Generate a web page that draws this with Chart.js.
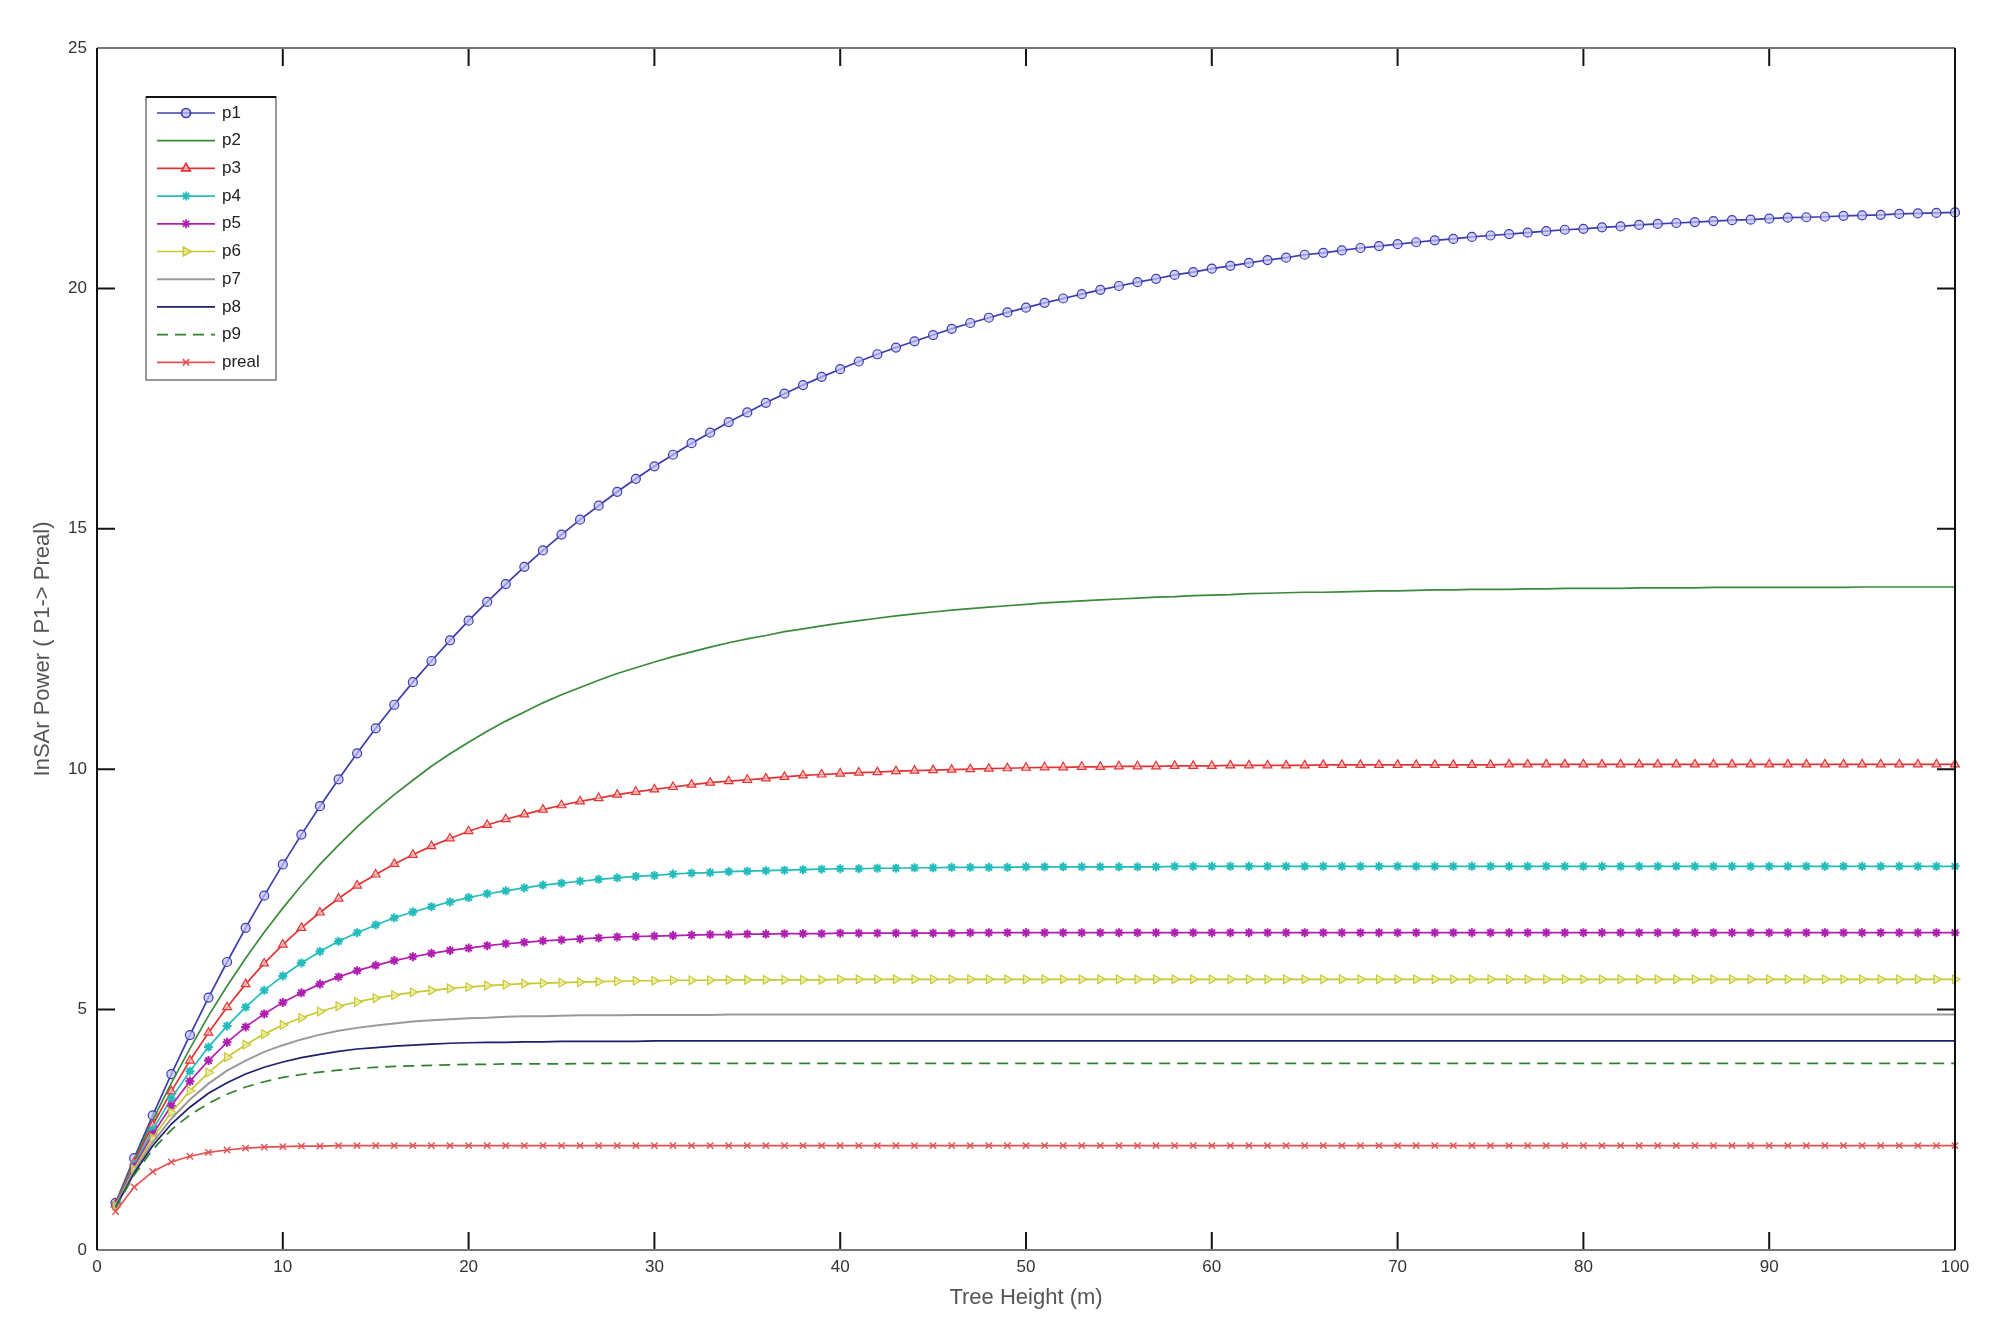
<!DOCTYPE html>
<html>
<head>
<meta charset="utf-8">
<script src="https://cdn.jsdelivr.net/npm/chart.js@4.4.1/dist/chart.umd.min.js"></script>
<style>
  html, body { margin: 0; padding: 0; background: #fff; }
  #wrap { width: 1997px; height: 1328px; }
</style>
</head>
<body>
<div id="wrap"><canvas id="myChart" width="1997" height="1328"></canvas></div>
<script>
// tree height (m), one point per metre
const heights = [
  1,2,3,4,5,6,7,8,9,10, 11,12,13,14,15,16,17,18,19,20,
  21,22,23,24,25,26,27,28,29,30, 31,32,33,34,35,36,37,38,39,40,
  41,42,43,44,45,46,47,48,49,50, 51,52,53,54,55,56,57,58,59,60,
  61,62,63,64,65,66,67,68,69,70, 71,72,73,74,75,76,77,78,79,80,
  81,82,83,84,85,86,87,88,89,90, 91,92,93,94,95,96,97,98,99,100
]

const p1 = [
  0.98,1.91,2.80,3.66,4.47,5.25,5.99,6.70,7.37,8.02,
  8.64,9.23,9.79,10.33,10.85,11.34,11.81,12.25,12.68,13.09,
  13.48,13.85,14.21,14.55,14.88,15.19,15.48,15.77,16.04,16.30,
  16.54,16.78,17.00,17.22,17.42,17.62,17.81,17.99,18.16,18.32,
  18.48,18.63,18.77,18.90,19.03,19.16,19.28,19.39,19.50,19.60,
  19.70,19.79,19.88,19.97,20.05,20.13,20.20,20.28,20.34,20.41,
  20.47,20.53,20.59,20.64,20.70,20.74,20.79,20.84,20.88,20.92,
  20.96,21.00,21.03,21.07,21.10,21.13,21.16,21.19,21.22,21.24,
  21.27,21.29,21.32,21.34,21.36,21.38,21.40,21.42,21.43,21.45,
  21.47,21.48,21.49,21.51,21.52,21.53,21.55,21.56,21.57,21.58
]
const p2 = [
  0.97,1.86,2.70,3.47,4.19,4.87,5.49,6.07,6.61,7.11,
  7.58,8.02,8.42,8.80,9.15,9.47,9.77,10.06,10.32,10.56,
  10.79,11.00,11.19,11.38,11.55,11.70,11.85,11.99,12.11,12.23,
  12.34,12.44,12.54,12.63,12.71,12.78,12.86,12.92,12.98,13.04,
  13.09,13.14,13.19,13.23,13.27,13.31,13.34,13.37,13.40,13.43,
  13.46,13.48,13.50,13.52,13.54,13.56,13.58,13.59,13.61,13.62,
  13.63,13.65,13.66,13.67,13.68,13.68,13.69,13.70,13.71,13.71,
  13.72,13.73,13.73,13.74,13.74,13.74,13.75,13.75,13.76,13.76,
  13.76,13.76,13.77,13.77,13.77,13.77,13.78,13.78,13.78,13.78,
  13.78,13.78,13.78,13.78,13.79,13.79,13.79,13.79,13.79,13.79
]
const p3 = [
  0.95,1.82,2.60,3.30,3.94,4.52,5.05,5.53,5.96,6.35,
  6.70,7.02,7.31,7.58,7.81,8.03,8.22,8.40,8.56,8.71,
  8.84,8.96,9.06,9.16,9.25,9.33,9.40,9.47,9.53,9.58,
  9.63,9.68,9.72,9.75,9.78,9.81,9.84,9.87,9.89,9.91,
  9.93,9.94,9.96,9.97,9.98,9.99,10.00,10.01,10.02,10.03,
  10.04,10.04,10.05,10.05,10.06,10.06,10.06,10.07,10.07,10.07,
  10.08,10.08,10.08,10.08,10.08,10.09,10.09,10.09,10.09,10.09,
  10.09,10.09,10.09,10.09,10.09,10.10,10.10,10.10,10.10,10.10,
  10.10,10.10,10.10,10.10,10.10,10.10,10.10,10.10,10.10,10.10,
  10.10,10.10,10.10,10.10,10.10,10.10,10.10,10.10,10.10,10.10
]
const p4 = [
  0.94,1.77,2.50,3.15,3.72,4.22,4.66,5.05,5.40,5.70,
  5.97,6.21,6.42,6.60,6.76,6.91,7.03,7.14,7.24,7.33,
  7.41,7.47,7.53,7.59,7.63,7.67,7.71,7.74,7.77,7.79,
  7.82,7.84,7.85,7.87,7.88,7.89,7.90,7.91,7.92,7.93,
  7.93,7.94,7.94,7.95,7.95,7.96,7.96,7.96,7.96,7.97,
  7.97,7.97,7.97,7.97,7.97,7.97,7.97,7.98,7.98,7.98,
  7.98,7.98,7.98,7.98,7.98,7.98,7.98,7.98,7.98,7.98,
  7.98,7.98,7.98,7.98,7.98,7.98,7.98,7.98,7.98,7.98,
  7.98,7.98,7.98,7.98,7.98,7.98,7.98,7.98,7.98,7.98,
  7.98,7.98,7.98,7.98,7.98,7.98,7.98,7.98,7.98,7.98
]
const p5 = [
  0.93,1.73,2.41,3.00,3.51,3.94,4.32,4.64,4.91,5.15,
  5.35,5.53,5.68,5.81,5.92,6.02,6.10,6.17,6.23,6.28,
  6.33,6.37,6.40,6.43,6.45,6.47,6.49,6.51,6.52,6.53,
  6.54,6.55,6.56,6.56,6.57,6.57,6.58,6.58,6.58,6.59,
  6.59,6.59,6.59,6.59,6.59,6.59,6.60,6.60,6.60,6.60,
  6.60,6.60,6.60,6.60,6.60,6.60,6.60,6.60,6.60,6.60,
  6.60,6.60,6.60,6.60,6.60,6.60,6.60,6.60,6.60,6.60,
  6.60,6.60,6.60,6.60,6.60,6.60,6.60,6.60,6.60,6.60,
  6.60,6.60,6.60,6.60,6.60,6.60,6.60,6.60,6.60,6.60,
  6.60,6.60,6.60,6.60,6.60,6.60,6.60,6.60,6.60,6.60
]
const p6 = [
  0.92,1.68,2.33,2.86,3.31,3.69,4.01,4.27,4.49,4.68,
  4.83,4.96,5.07,5.16,5.24,5.30,5.36,5.40,5.44,5.47,
  5.50,5.52,5.54,5.55,5.56,5.57,5.58,5.59,5.60,5.60,
  5.61,5.61,5.61,5.62,5.62,5.62,5.62,5.62,5.62,5.63,
  5.63,5.63,5.63,5.63,5.63,5.63,5.63,5.63,5.63,5.63,
  5.63,5.63,5.63,5.63,5.63,5.63,5.63,5.63,5.63,5.63,
  5.63,5.63,5.63,5.63,5.63,5.63,5.63,5.63,5.63,5.63,
  5.63,5.63,5.63,5.63,5.63,5.63,5.63,5.63,5.63,5.63,
  5.63,5.63,5.63,5.63,5.63,5.63,5.63,5.63,5.63,5.63,
  5.63,5.63,5.63,5.63,5.63,5.63,5.63,5.63,5.63,5.63
]
const p7 = [
  0.91,1.64,2.24,2.73,3.13,3.46,3.73,3.94,4.12,4.26,
  4.38,4.48,4.56,4.62,4.67,4.71,4.75,4.78,4.80,4.82,
  4.83,4.85,4.86,4.86,4.87,4.88,4.88,4.88,4.89,4.89,
  4.89,4.89,4.89,4.90,4.90,4.90,4.90,4.90,4.90,4.90,
  4.90,4.90,4.90,4.90,4.90,4.90,4.90,4.90,4.90,4.90,
  4.90,4.90,4.90,4.90,4.90,4.90,4.90,4.90,4.90,4.90,
  4.90,4.90,4.90,4.90,4.90,4.90,4.90,4.90,4.90,4.90,
  4.90,4.90,4.90,4.90,4.90,4.90,4.90,4.90,4.90,4.90,
  4.90,4.90,4.90,4.90,4.90,4.90,4.90,4.90,4.90,4.90,
  4.90,4.90,4.90,4.90,4.90,4.90,4.90,4.90,4.90,4.90
]
const p8 = [
  0.89,1.60,2.17,2.62,2.97,3.26,3.48,3.66,3.80,3.91,
  4.00,4.07,4.13,4.18,4.21,4.24,4.26,4.28,4.30,4.31,
  4.32,4.32,4.33,4.33,4.34,4.34,4.34,4.34,4.34,4.35,
  4.35,4.35,4.35,4.35,4.35,4.35,4.35,4.35,4.35,4.35,
  4.35,4.35,4.35,4.35,4.35,4.35,4.35,4.35,4.35,4.35,
  4.35,4.35,4.35,4.35,4.35,4.35,4.35,4.35,4.35,4.35,
  4.35,4.35,4.35,4.35,4.35,4.35,4.35,4.35,4.35,4.35,
  4.35,4.35,4.35,4.35,4.35,4.35,4.35,4.35,4.35,4.35,
  4.35,4.35,4.35,4.35,4.35,4.35,4.35,4.35,4.35,4.35,
  4.35,4.35,4.35,4.35,4.35,4.35,4.35,4.35,4.35,4.35
]
const p9 = [
  0.88,1.56,2.09,2.50,2.81,3.05,3.24,3.39,3.50,3.59,
  3.65,3.70,3.74,3.78,3.80,3.82,3.83,3.84,3.85,3.86,
  3.86,3.87,3.87,3.87,3.87,3.88,3.88,3.88,3.88,3.88,
  3.88,3.88,3.88,3.88,3.88,3.88,3.88,3.88,3.88,3.88,
  3.88,3.88,3.88,3.88,3.88,3.88,3.88,3.88,3.88,3.88,
  3.88,3.88,3.88,3.88,3.88,3.88,3.88,3.88,3.88,3.88,
  3.88,3.88,3.88,3.88,3.88,3.88,3.88,3.88,3.88,3.88,
  3.88,3.88,3.88,3.88,3.88,3.88,3.88,3.88,3.88,3.88,
  3.88,3.88,3.88,3.88,3.88,3.88,3.88,3.88,3.88,3.88,
  3.88,3.88,3.88,3.88,3.88,3.88,3.88,3.88,3.88,3.88
]
const preal = [
  0.80,1.31,1.63,1.83,1.95,2.03,2.08,2.12,2.14,2.15,
  2.16,2.16,2.17,2.17,2.17,2.17,2.17,2.17,2.17,2.17,
  2.17,2.17,2.17,2.17,2.17,2.17,2.17,2.17,2.17,2.17,
  2.17,2.17,2.17,2.17,2.17,2.17,2.17,2.17,2.17,2.17,
  2.17,2.17,2.17,2.17,2.17,2.17,2.17,2.17,2.17,2.17,
  2.17,2.17,2.17,2.17,2.17,2.17,2.17,2.17,2.17,2.17,
  2.17,2.17,2.17,2.17,2.17,2.17,2.17,2.17,2.17,2.17,
  2.17,2.17,2.17,2.17,2.17,2.17,2.17,2.17,2.17,2.17,
  2.17,2.17,2.17,2.17,2.17,2.17,2.17,2.17,2.17,2.17,
  2.17,2.17,2.17,2.17,2.17,2.17,2.17,2.17,2.17,2.17
]

const seriesNames = ['p1','p2','p3','p4','p5','p6','p7','p8','p9','preal']
const seriesValues = [p1, p2, p3, p4, p5, p6, p7, p8, p9, preal]
const xTicks = [0,10,20,30,40,50,60,70,80,90,100]
const yTicks = [0,5,10,15,20,25]

// matlab-ish line specs
const looks = [
  { color: '#3c3cae', fill: 'rgba(190,190,245,0.7)', marker: 'circle', r: 4.5, bw: 1.2 },
  { color: '#3b8a3b', marker: false },
  { color: '#e03434', fill: 'rgba(250,190,190,0.7)', marker: 'triangle', r: 5, bw: 1.2 },
  { color: '#22bcbc', fill: '#22bcbc', marker: 'star', r: 4.5, bw: 2 },
  { color: '#b020b0', fill: '#b020b0', marker: 'star', r: 4.5, bw: 2 },
  { color: '#c8c832', fill: 'rgba(240,240,170,0.7)', marker: 'triangle', r: 5, rot: 90, bw: 1.2 },
  { color: '#999999', marker: false, w: 2 },
  { color: '#1e1e6e', marker: false },
  { color: '#2f802f', marker: false, dash: [11, 7] },
  { color: '#e25252', fill: '#e25252', marker: 'crossRot', r: 4.5, bw: 1.4 }
]

const datasets = seriesNames.map((name, i) => {
  const lk = looks[i]
  return {
    label: name,
    data: seriesValues[i].map((v, k) => ({ x: heights[k], y: v })),
    borderColor: lk.color,
    borderWidth: lk.w || 1.7,
    borderDash: lk.dash || [],
    pointStyle: lk.marker || 'circle',
    pointRadius: lk.marker ? lk.r : 0,
    pointRotation: lk.rot || 0,
    pointBorderColor: lk.color,
    pointBackgroundColor: lk.fill || lk.color,
    pointBorderWidth: lk.bw || 1.2,
    tension: 0,
    fill: false,
    clip: 8,
    order: seriesNames.length - i
  }
})

// box round the axes with inward ticks on all four sides
const framePlugin = {
  id: 'frame',
  afterDatasetsDraw(chart) {
    const { ctx, chartArea: a, scales: { x, y } } = chart
    ctx.save()
    ctx.lineWidth = 2
    ctx.strokeStyle = '#151515'
    ctx.beginPath()
    xTicks.forEach(t => {
      const px = x.getPixelForValue(t)
      ctx.moveTo(px, a.bottom); ctx.lineTo(px, a.bottom - 18)
      ctx.moveTo(px, a.top); ctx.lineTo(px, a.top + 18)
    })
    yTicks.forEach(t => {
      const py = y.getPixelForValue(t)
      ctx.moveTo(a.left, py); ctx.lineTo(a.left + 18, py)
      ctx.moveTo(a.right, py); ctx.lineTo(a.right - 18, py)
    })
    ctx.stroke()
    ctx.beginPath()
    ctx.strokeStyle = '#777'
    ctx.moveTo(a.left, a.top); ctx.lineTo(a.right, a.top)
    ctx.moveTo(a.left, a.bottom); ctx.lineTo(a.right, a.bottom)
    ctx.stroke()
    ctx.beginPath()
    ctx.strokeStyle = '#111'
    ctx.moveTo(a.left, a.top); ctx.lineTo(a.left, a.bottom)
    ctx.moveTo(a.right, a.top); ctx.lineTo(a.right, a.bottom)
    ctx.stroke()
    ctx.restore()
  }
}

// boxed legend in the upper left, line sample plus marker
const legendPlugin = {
  id: 'boxLegend',
  afterDraw(chart) {
    const { ctx, chartArea: a } = chart
    const left = a.left + 49, top = a.top + 49
    const w = 130, rowH = 27.7
    const h = rowH * chart.data.datasets.length + 6
    ctx.save()
    ctx.fillStyle = '#fff'
    ctx.fillRect(left, top, w, h)
    ctx.lineWidth = 1.5
    ctx.strokeStyle = '#777'
    ctx.strokeRect(left, top, w, h)
    ctx.beginPath()
    ctx.lineWidth = 2
    ctx.strokeStyle = '#111'
    ctx.moveTo(left, top); ctx.lineTo(left + w, top)
    ctx.stroke()
    chart.data.datasets.forEach((ds, i) => {
      const cy = top + 16 + i * rowH
      ctx.beginPath()
      ctx.strokeStyle = ds.borderColor
      ctx.lineWidth = ds.borderWidth
      ctx.setLineDash(ds.borderDash)
      ctx.moveTo(left + 11, cy); ctx.lineTo(left + 69, cy)
      ctx.stroke()
      ctx.setLineDash([])
      if (ds.pointRadius > 0) {
        ctx.strokeStyle = ds.pointBorderColor
        ctx.fillStyle = ds.pointBackgroundColor
        Chart.helpers.drawPoint(ctx, {
          pointStyle: ds.pointStyle, radius: ds.pointRadius,
          rotation: ds.pointRotation, borderWidth: ds.pointBorderWidth
        }, left + 40, cy)
      }
      ctx.fillStyle = '#222'
      ctx.font = '17px "Liberation Sans", Arial, sans-serif'
      ctx.textBaseline = 'middle'
      ctx.fillText(ds.label, left + 76, cy)
    })
    ctx.restore()
  }
}

const tickFont = { family: '"Liberation Sans", Arial, sans-serif', size: 17 }
const titleFont = { family: '"Liberation Sans", Arial, sans-serif', size: 22 }

new Chart(document.getElementById('myChart'), {
  type: 'line',
  data: { datasets },
  plugins: [framePlugin, legendPlugin],
  options: {
    responsive: false,
    animation: false,
    devicePixelRatio: 1,
    layout: { padding: { left: 0, top: 48, right: 42, bottom: 0 } },
    plugins: { legend: { display: false }, tooltip: { enabled: false } },
    scales: {
      x: {
        type: 'linear', min: 0, max: 100,
        afterFit(s) { s.height = 78 },
        grid: { display: false, drawTicks: false },
        border: { display: false },
        ticks: { stepSize: 10, padding: 7, color: '#333', font: tickFont },
        title: { display: true, text: 'Tree Height (m)', color: '#555', font: titleFont, padding: { top: 0, bottom: 17 } }
      },
      y: {
        type: 'linear', min: 0, max: 25,
        afterFit(s) { s.width = 97 },
        grid: { display: false, drawTicks: false },
        border: { display: false },
        ticks: { stepSize: 5, padding: 10, color: '#333', font: tickFont },
        title: { display: true, text: 'InSAr Power ( P1-> Preal)', color: '#555', font: titleFont, padding: { top: 30, bottom: 0 } }
      }
    }
  }
})
</script>
</body>
</html>
